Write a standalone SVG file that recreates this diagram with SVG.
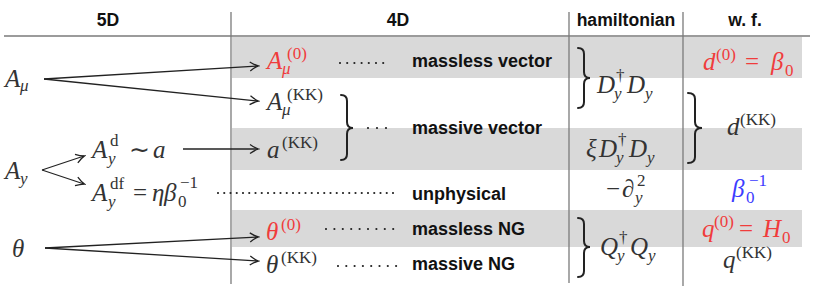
<svg xmlns="http://www.w3.org/2000/svg" width="818" height="290" viewBox="0 0 818 290">
<style>
.bg{fill:#ffffff}
.band{fill:#d9d9d9}
.rule{stroke:#7a7a7a;stroke-width:1.3;fill:none}
.hd{font-family:'Liberation Sans',Arial,sans-serif;font-weight:bold;font-size:17.6px;fill:#111;text-anchor:middle}
.lb{font-family:'Liberation Sans',Arial,sans-serif;font-weight:bold;font-size:18px;fill:#111}
.m{font-family:'Liberation Serif','Times New Roman',serif;font-size:25px;font-style:italic;fill:#333}
.u{font-style:normal}
.s{font-size:17px}
.red{fill:#f03c3c}
.blue{fill:#3c3cff}
.arr{stroke:#222;stroke-width:1.3;fill:none}
.brace{stroke:#222;stroke-width:2;fill:none;stroke-linecap:round}
.dots{stroke:#222;stroke-width:2.2;stroke-linecap:round;fill:none}
</style>
<defs>
<marker id="tip" markerUnits="userSpaceOnUse" markerWidth="12" markerHeight="12" viewBox="-9 -6 10 12" refX="0" refY="0" orient="auto">
<path d="M-8,-4.5 Q-3,-1 0.5,0 Q-3,1 -8,4.5" stroke="#222" stroke-width="1.3" fill="none"/>
</marker>
</defs>
<rect class="bg" x="0" y="0" width="818" height="290"/>

<g id="table">
<rect class="band" x="232" y="37" width="570" height="41"/>
<rect class="band" x="232" y="128" width="570" height="42"/>
<rect class="band" x="232" y="210" width="570" height="37"/>
<line class="rule" x1="4" y1="36" x2="810" y2="36"/>
<line class="rule" x1="231" y1="12" x2="231" y2="284"/>
<line class="rule" x1="569" y1="12" x2="569" y2="283"/>
<line class="rule" x1="683" y1="12" x2="683" y2="286"/>
<text class="hd" x="108" y="26">5D</text>
<text class="hd" x="398" y="26">4D</text>
<text class="hd" x="626" y="26">hamiltonian</text>
<text class="hd" x="745" y="26">w. f.</text>
</g>

<g id="n-Amu"><text class="m"><tspan x="5" y="87">A</tspan><tspan class="s" x="20" y="91">μ</tspan></text></g>
<g id="n-Ay"><text class="m"><tspan x="5" y="179">A</tspan><tspan class="s" x="20" y="184">y</tspan></text></g>
<g id="n-theta"><text class="m" x="12" y="257">θ</text></g>

<g id="n-Ayd"><text class="m"><tspan x="92" y="158">A</tspan><tspan class="s u" x="110" y="146">d</tspan><tspan class="s" x="108" y="164">y</tspan><tspan class="u" x="129" y="158">∼</tspan><tspan x="153" y="158">a</tspan></text></g>
<g id="n-Aydf"><text class="m"><tspan x="92" y="201">A</tspan><tspan class="s u" x="110" y="189">df</tspan><tspan class="s" x="108" y="207">y</tspan><tspan class="u" x="133" y="201">=</tspan><tspan x="152" y="201">η</tspan><tspan x="164" y="201">β</tspan><tspan class="s u" x="178" y="207">0</tspan><tspan class="s u" x="180" y="188">−1</tspan></text></g>

<g id="n-Amu0"><text class="m red"><tspan x="267" y="69">A</tspan><tspan class="s u" x="287" y="59">(0)</tspan><tspan class="s" x="282" y="74">μ</tspan></text></g>
<g id="n-AmuKK"><text class="m"><tspan x="267" y="110">A</tspan><tspan class="s u" x="287" y="100">(KK)</tspan><tspan class="s" x="282" y="115">μ</tspan></text></g>
<g id="n-aKK"><text class="m"><tspan x="267" y="158">a</tspan><tspan class="s u" x="282" y="148">(KK)</tspan></text></g>
<g id="n-theta0"><text class="m red"><tspan x="266" y="240">θ</tspan><tspan class="s u" x="281" y="230">(0)</tspan></text></g>
<g id="n-thetaKK"><text class="m"><tspan x="266" y="273">θ</tspan><tspan class="s u" x="281" y="263">(KK)</tspan></text></g>

<g id="n-lbl-massless-vector"><text class="lb" x="412" y="67">massless vector</text></g>
<g id="n-lbl-massive-vector"><text class="lb" x="412" y="134">massive vector</text></g>
<g id="n-lbl-unphysical"><text class="lb" x="412" y="200">unphysical</text></g>
<g id="n-lbl-massless-NG"><text class="lb" x="412" y="235">massless NG</text></g>
<g id="n-lbl-massive-NG"><text class="lb" x="412" y="270">massive NG</text></g>

<g id="n-ham-DD"><text class="m"><tspan x="597" y="93">D</tspan><tspan class="s u" x="616" y="81">†</tspan><tspan class="s" x="614" y="99">y</tspan><tspan x="627" y="93">D</tspan><tspan class="s" x="645" y="99">y</tspan></text></g>
<g id="n-ham-xiDD"><text class="m"><tspan x="586" y="157">ξ</tspan><tspan x="599" y="157">D</tspan><tspan class="s u" x="618" y="145">†</tspan><tspan class="s" x="616" y="163">y</tspan><tspan x="629" y="157">D</tspan><tspan class="s" x="647" y="163">y</tspan></text></g>
<g id="n-ham-dy2"><text class="m"><tspan class="u" x="606" y="197">−</tspan><tspan x="622" y="197">∂</tspan><tspan class="s u" x="637" y="186">2</tspan><tspan class="s" x="635" y="203">y</tspan></text></g>
<g id="n-ham-QQ"><text class="m"><tspan x="600" y="255">Q</tspan><tspan class="s u" x="619" y="243">†</tspan><tspan class="s" x="617" y="261">y</tspan><tspan x="630" y="255">Q</tspan><tspan class="s" x="648" y="261">y</tspan></text></g>

<g id="n-wf-d0"><text class="m red"><tspan x="703" y="70">d</tspan><tspan class="s u" x="716" y="60">(0)</tspan><tspan class="u" x="745" y="70">=</tspan><tspan x="771" y="70">β</tspan><tspan class="s u" x="785" y="76">0</tspan></text></g>
<g id="n-wf-dKK"><text class="m"><tspan x="727" y="135">d</tspan><tspan class="s u" x="740" y="125">(KK)</tspan></text></g>
<g id="n-wf-beta"><text class="m blue"><tspan x="732" y="197">β</tspan><tspan class="s u" x="746" y="203">0</tspan><tspan class="s u" x="749" y="186">−1</tspan></text></g>
<g id="n-wf-q0"><text class="m red"><tspan x="702" y="237">q</tspan><tspan class="s u" x="714" y="227">(0)</tspan><tspan class="u" x="739" y="237">=</tspan><tspan x="763" y="237">H</tspan><tspan class="s u" x="782" y="243">0</tspan></text></g>
<g id="n-wf-qKK"><text class="m"><tspan x="723" y="268">q</tspan><tspan class="s u" x="736" y="258">(KK)</tspan></text></g>

<g id="connectors">
<line class="arr" x1="44" y1="79" x2="258" y2="66" marker-end="url(#tip)"/>
<line class="arr" x1="44" y1="79" x2="258" y2="101" marker-end="url(#tip)"/>
<line class="arr" x1="42" y1="170" x2="84" y2="156" marker-end="url(#tip)"/>
<line class="arr" x1="42" y1="170" x2="84" y2="184" marker-end="url(#tip)"/>
<line class="arr" x1="183" y1="149" x2="258" y2="149" marker-end="url(#tip)"/>
<line class="arr" x1="45" y1="248" x2="258" y2="237" marker-end="url(#tip)"/>
<line class="arr" x1="45" y1="248" x2="258" y2="261" marker-end="url(#tip)"/>
<line class="dots" x1="340" y1="63" x2="383.5" y2="63" stroke-dasharray="0 7.2"/>
<line class="dots" x1="368" y1="128" x2="386.5" y2="128" stroke-dasharray="0 9"/>
<line class="dots" x1="218" y1="193" x2="393.5" y2="193" stroke-dasharray="0 6.25"/>
<line class="dots" x1="326" y1="229" x2="393.5" y2="229" stroke-dasharray="0 8.4"/>
<line class="dots" x1="338" y1="266" x2="396.5" y2="266" stroke-dasharray="0 8.3"/>
<path class="brace" d="M341,95 Q347,95 347,101 L347,122 Q347,128 353,128 Q347,128 347,134 L347,154 Q347,160 341,160"/>
<path class="brace" d="M578,48 Q584,48 584,54 L584,72 Q584,78 590,78 Q584,78 584,84 L584,102 Q584,108 578,108"/>
<path class="brace" d="M688,93 Q695,93 695,99 L695,122 Q695,128 702,128 Q695,128 695,134 L695,157 Q695,163 688,163"/>
<path class="brace" d="M578,218 Q584,218 584,224 L584,241 Q584,247 590,247 Q584,247 584,253 L584,271 Q584,277 578,277"/>
</g>
</svg>
